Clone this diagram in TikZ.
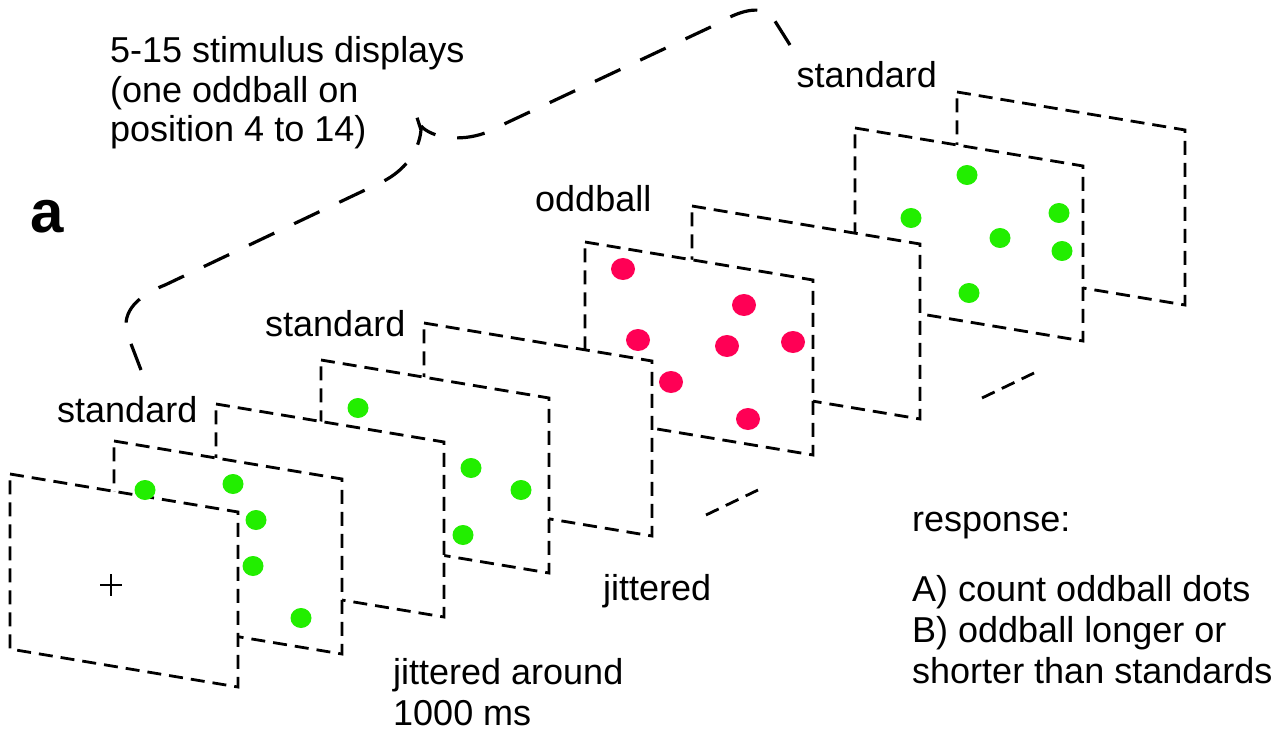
\documentclass[tikz,border=0pt]{standalone}
\usepackage{fontspec}
\setmainfont{Liberation Sans}
\usepackage{tikz}
\definecolor{dotgreen}{RGB}{34,238,0}
\definecolor{dotred}{RGB}{255,0,85}
\newcommand{\screen}[3]{\filldraw[screen] (#2,#3) coordinate (#1) -- ++(228,38) -- ++(0,175) -- ++(-228,-38) -- cycle;}
\newcommand{\greendot}[2]{\fill[dotgreen] (#1,#2) ellipse [x radius=10.5pt, y radius=10pt];}
\newcommand{\reddot}[2]{\fill[dotred] (#1,#2) ellipse [x radius=12pt, y radius=11pt];}

\begin{document}
\begin{tikzpicture}[x=1pt,y=-1pt,
    screen/.style={draw, fill=white, line width=2.8pt, dash pattern=on 14pt off 8pt},
    gap line/.style={line width=2.8pt, dash pattern=on 14pt off 8pt},
    brace line/.style={line width=3.2pt, dash pattern=on 28pt off 22pt},
    caption/.style={font=\fontsize{36}{41}\selectfont, inner sep=0pt, anchor=base west, align=left}]
    \useasboundingbox (0,0) rectangle (1280,730);
    % screens, back to front
    \screen{I}{957}{92}
    \screen{H}{855}{128}
    \screen{G}{692}{206}
    \screen{F}{585}{242}
    \screen{E}{424}{323}
    \screen{D}{321}{360}
    \screen{C}{216}{404}
    \screen{B}{114}{441}
    \screen{A}{10}{474}
    % jittered gaps
    \draw [gap line] (706,515) -- (758,490);
    \draw [gap line] (982,398) -- (1034,373);
    % dots
    \foreach \x/\y in {145/490, 233/484, 256/520, 253/566, 301/618,
      358/408, 471/468, 521/490, 463/535,
      967/175, 911/218, 1000/238, 1059/213, 1062/251, 969/293}
      { \greendot{\x}{\y} }
    \foreach \x/\y in {623/269, 744/305, 638/340, 727/346, 793/342, 671/382, 748/419}
      { \reddot{\x}{\y} }
    \draw [line width=1.4pt] (100,585) -- (122,585) (111,574) -- (111,596);
    % brace
    \draw [brace line] (141,370) -- (128,336) .. controls (121,316) and (132,298) .. (165,285)
      -- (382,182) .. controls (404,171) and (419,152) .. (421,130) -- (413,105);
    \draw [brace line] (790,45) -- (773,18) .. controls (762,4) and (740,10) .. (715,25)
      -- (485,133) .. controls (460,142) and (432,138) .. (421,126);
    % labels (base = last line)
    \node (displays) [caption, font=\fontsize{36}{39.5}\selectfont] at (110,142)
      {5-15 stimulus displays\\(one oddball on\\position 4 to 14)};
    \node (panel) [caption, font=\bfseries\fontsize{60}{60}\selectfont] at (30,233) {a};
    \node (std1) [caption] at (57,422) {standard};
    \node (std2) [caption] at (265,336) {standard};
    \node (odd) [caption] at (535,212) {oddball};
    \node (std3) [caption, anchor=base east] at (937,88) {standard};
    \node (jit) [caption] at (603,600) {jittered};
    \node (jitaround) [caption] at (393,725) {jittered around\\1000 ms};
    \node (resp) [caption] at (912,683)
      {response:\\[29pt]A) count oddball dots\\B) oddball longer or\\shorter than standards};
\end{tikzpicture}
\end{document}
